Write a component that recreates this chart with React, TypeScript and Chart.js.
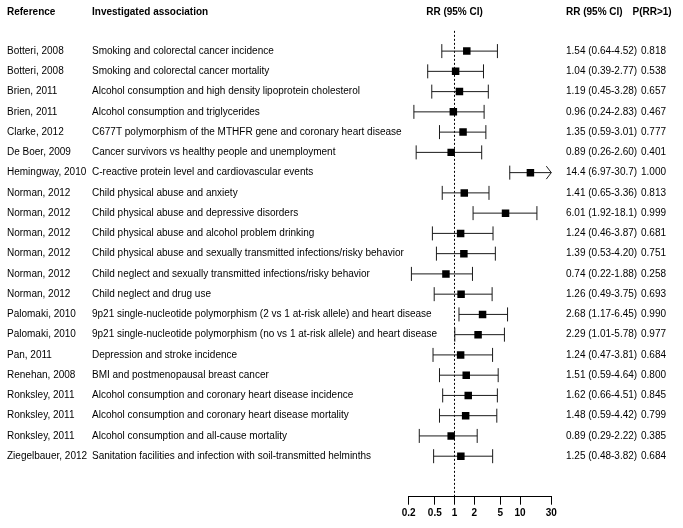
import { useEffect, useRef } from "react";
import { Chart, registerables } from "chart.js";

Chart.register(...registerables);

const references = [
  "Botteri, 2008", "Botteri, 2008", "Brien, 2011", "Brien, 2011", "Clarke, 2012",
  "De Boer, 2009", "Hemingway, 2010", "Norman, 2012", "Norman, 2012", "Norman, 2012",
  "Norman, 2012", "Norman, 2012", "Norman, 2012", "Palomaki, 2010", "Palomaki, 2010",
  "Pan, 2011", "Renehan, 2008", "Ronksley, 2011", "Ronksley, 2011", "Ronksley, 2011",
  "Ziegelbauer, 2012",
];

const associations = [
  "Smoking and colorectal cancer incidence",
  "Smoking and colorectal cancer mortality",
  "Alcohol consumption and high density lipoprotein cholesterol",
  "Alcohol consumption and triglycerides",
  "C677T polymorphism of the MTHFR gene and coronary heart disease",
  "Cancer survivors vs healthy people and unemployment",
  "C-reactive protein level and cardiovascular events",
  "Child physical abuse and anxiety",
  "Child physical abuse and depressive disorders",
  "Child physical abuse and alcohol problem drinking",
  "Child physical abuse and sexually transmitted infections/risky behavior",
  "Child neglect and sexually transmitted infections/risky behavior",
  "Child neglect and drug use",
  "9p21 single-nucleotide polymorphism (2 vs 1 at-risk allele) and heart disease",
  "9p21 single-nucleotide polymorphism (no vs 1 at-risk allele) and heart disease",
  "Depression and stroke incidence",
  "BMI and postmenopausal breast cancer",
  "Alcohol consumption and coronary heart disease incidence",
  "Alcohol consumption and coronary heart disease mortality",
  "Alcohol consumption and all-cause mortality",
  "Sanitation facilities and infection with soil-transmitted helminths",
];

const rrValues = [1.54, 1.04, 1.19, 0.96, 1.35, 0.89, 14.4, 1.41, 6.01, 1.24, 1.39, 0.74, 1.26, 2.68, 2.29, 1.24, 1.51, 1.62, 1.48, 0.89, 1.25];
const ciLower = [0.64, 0.39, 0.45, 0.24, 0.59, 0.26, 6.97, 0.65, 1.92, 0.46, 0.53, 0.22, 0.49, 1.17, 1.01, 0.47, 0.59, 0.66, 0.59, 0.29, 0.48];
const ciUpper = [4.52, 2.77, 3.28, 2.83, 3.01, 2.60, 30.7, 3.36, 18.1, 3.87, 4.20, 1.88, 3.75, 6.45, 5.78, 3.81, 4.64, 4.51, 4.42, 2.22, 3.82];
const probabilities = [0.818, 0.538, 0.657, 0.467, 0.777, 0.401, 1.0, 0.813, 0.999, 0.681, 0.751, 0.258, 0.693, 0.990, 0.977, 0.684, 0.800, 0.845, 0.799, 0.385, 0.684];

const xTickValues = [0.2, 0.5, 1, 2, 5, 10, 30];
const headerTexts = ["Reference", "Investigated association", "RR (95% CI)", "RR (95% CI)", "P(RR>1)"];

const FONT = '"Liberation Sans", Arial, Helvetica, sans-serif';

const fmt = (v: number) => (v >= 10 ? v.toPrecision(3) : v.toFixed(2));

const forestPlugin = {
  id: "forest",
  beforeDatasetsDraw(chart: any) {
    const { ctx, chartArea } = chart;
    const xs = chart.scales.x;
    const ys = chart.scales.y;
    ctx.save();
    ctx.strokeStyle = "#000";
    ctx.lineWidth = 1;
    const x1 = xs.getPixelForValue(1);
    ctx.setLineDash([2, 2]);
    ctx.beginPath();
    ctx.moveTo(x1, chartArea.top);
    ctx.lineTo(x1, chartArea.bottom);
    ctx.stroke();
    ctx.setLineDash([]);
    ctx.strokeStyle = "#1a1a1a";
    rrValues.forEach((_, i) => {
      const py = ys.getPixelForValue(i);
      const xl = xs.getPixelForValue(Math.max(ciLower[i], xs.min));
      const clipped = ciUpper[i] > xs.max;
      const xr = xs.getPixelForValue(Math.min(ciUpper[i], xs.max));
      ctx.beginPath();
      ctx.moveTo(xl, py);
      ctx.lineTo(xr, py);
      ctx.moveTo(xl, py - 7);
      ctx.lineTo(xl, py + 7);
      if (!clipped) {
        ctx.moveTo(xr, py - 7);
        ctx.lineTo(xr, py + 7);
      } else {
        ctx.moveTo(xr - 5, py - 6.5);
        ctx.lineTo(xr, py);
        ctx.lineTo(xr - 5, py + 6.5);
      }
      ctx.stroke();
    });
    ctx.restore();
  },
  afterDraw(chart: any) {
    const { ctx } = chart;
    const xs = chart.scales.x;
    const ys = chart.scales.y;
    ctx.save();
    ctx.fillStyle = "#000";
    ctx.textBaseline = "middle";
    ctx.font = `bold 10px ${FONT}`;
    const hy = 12;
    ctx.textAlign = "left";
    ctx.fillText(headerTexts[0], 7, hy);
    ctx.fillText(headerTexts[1], 92, hy);
    ctx.textAlign = "center";
    ctx.fillText(headerTexts[2], xs.getPixelForValue(1), hy);
    ctx.textAlign = "left";
    ctx.fillText(headerTexts[3], 566, hy);
    ctx.fillText(headerTexts[4], 632.5, hy);
    ctx.font = `10px ${FONT}`;
    rrValues.forEach((rr, i) => {
      const py = ys.getPixelForValue(i);
      ctx.fillText(references[i], 7, py);
      ctx.fillText(associations[i], 92, py);
      ctx.fillText(`${fmt(rr)} (${fmt(ciLower[i])}-${fmt(ciUpper[i])})`, 566, py);
      ctx.fillText(probabilities[i].toFixed(3), 641, py);
    });
    ctx.restore();
  },
};

export default function App() {
  const canvasRef = useRef<HTMLCanvasElement | null>(null);

  useEffect(() => {
    if (!canvasRef.current) return;
    const chart = new Chart(canvasRef.current, {
      type: "scatter",
      data: {
        datasets: [
          {
            data: rrValues.map((v, i) => ({ x: v, y: i })),
            pointStyle: "rect",
            pointRadius: 5.3,
            pointHoverRadius: 5.3,
            backgroundColor: "#000",
            borderColor: "#000",
            borderWidth: 0,
          },
        ],
      },
      options: {
        responsive: false,
        animation: false,
        devicePixelRatio: 1,
        layout: { padding: { left: 408.7, right: 131.7, top: 30.85, bottom: 0 } },
        plugins: { legend: { display: false }, tooltip: { enabled: false } },
        scales: {
          x: {
            type: "logarithmic",
            min: 0.2,
            max: 30,
            afterBuildTicks: (scale: any) => {
              scale.ticks = xTickValues.map((v) => ({ value: v }));
            },
            afterFit: (scale: any) => {
              scale.height = 528 - 496.7;
            },
            grid: { drawOnChartArea: false, drawTicks: true, tickLength: 8, color: "#000" },
            border: { display: true, color: "#000", width: 1 },
            ticks: {
              autoSkip: false,
              maxRotation: 0,
              padding: 3,
              color: "#000",
              font: { family: FONT, size: 10, weight: "bold" },
              callback: (v: any) => String(v),
            },
          },
          y: { type: "linear", min: -1, max: 22, reverse: true, display: false },
        },
      },
      plugins: [forestPlugin],
    } as any);
    return () => chart.destroy();
  }, []);

  return (
    <div style={{ position: "absolute", left: 0, top: 0, width: 683, height: 528, background: "#fff" }}>
      <canvas ref={canvasRef} width={683} height={528} />
    </div>
  );
}
